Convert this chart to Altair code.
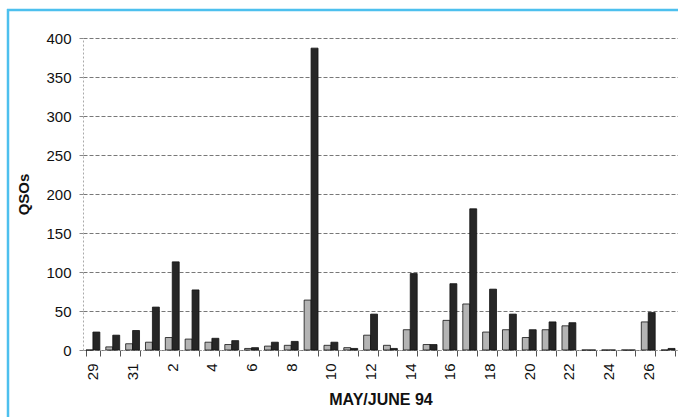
import altair as alt
import pandas as pd

days = ["29", "30", "31", "1", "2", "3", "4", "5", "6", "7", "8", "9", "10", "11", "12",
        "13", "14", "15", "16", "17", "18", "19", "20", "21", "22", "23", "24", "25", "26", "27"]
light = [0, 4, 8, 10, 16, 14, 10, 7, 2, 5, 6, 64, 6, 3, 19, 6, 26, 7, 38, 59,
         23, 26, 16, 26, 31, 0, 0, 0, 36, 0]
dark = [23, 19, 25, 55, 113, 77, 15, 12, 3, 10, 11, 387, 10, 2, 46, 2, 98, 7, 85, 181,
        78, 46, 26, 36, 35, 0, 0, 0, 48, 2]
shown_labels = ["29", "31", "2", "4", "6", "8", "10", "12", "14", "16", "18", "20", "22", "24", "26"]

rows = []
for d, a, b in zip(days, light, dark):
    rows.append({"day": d, "series": "A", "qsos": a})
    rows.append({"day": d, "series": "B", "qsos": b})
df = pd.DataFrame(rows)

label_list = "[" + ",".join("'%s'" % s for s in shown_labels) + "]"

bars = alt.Chart(df).mark_bar(stroke="#111", strokeWidth=0.8).encode(
    x=alt.X("day:N", sort=days,
            scale=alt.Scale(paddingInner=0.3, paddingOuter=0.15),
            axis=alt.Axis(title="MAY/JUNE 94", labelAngle=270, labelAlign="right",
                          labelBaseline="middle", labelFontSize=15, labelColor="#111",
                          labelFont="Liberation Sans", labelPadding=7,
                          labelExpr="indexof(%s, datum.label) >= 0 ? datum.label : ''" % label_list,
                          tickBand="extent", tickSize=6, tickColor="#555",
                          domainColor="#999", domainDash=[2, 2],
                          titleFont="Liberation Sans", titleFontSize=16, titleFontWeight="bold",
                          titleColor="#111", titleBaseline="top", titleY=41)),
    xOffset=alt.XOffset("series:N", scale=alt.Scale(paddingInner=0, paddingOuter=0)),
    y=alt.Y("qsos:Q", scale=alt.Scale(domain=[0, 400]),
            axis=alt.Axis(title="QSOs", values=[0, 50, 100, 150, 200, 250, 300, 350, 400],
                          labelFontSize=15, labelFont="Liberation Sans", labelColor="#111",
                          labelPadding=8, tickSize=4, tickColor="#888",
                          grid=True, gridColor="#555", gridDash=[4, 2], gridWidth=0.8,
                          domainColor="#aaa", domainDash=[2, 2],
                          titleFont="Liberation Sans", titleFontSize=15, titleFontWeight="bold",
                          titleColor="#111", titleX=-52)),
    color=alt.Color("series:N", scale=alt.Scale(domain=["A", "B"], range=["#b4b4b4", "#262626"]),
                    legend=None),
)

frame_left = alt.Chart(alt.Data(values=[{}])).mark_rule(
    stroke="#4dc0ee", strokeWidth=2.5
).encode(x=alt.value(-75), y=alt.value(-29), y2=alt.value(400))

frame_top = alt.Chart(alt.Data(values=[{}])).mark_rule(
    stroke="#4dc0ee", strokeWidth=2.5
).encode(x=alt.value(-76), x2=alt.value(595), y=alt.value(-28))

chart = alt.layer(bars, frame_left, frame_top).properties(
    width=595, height=312,
    autosize=alt.AutoSizeParams(type="none"),
    padding={"left": 83, "top": 38, "right": 0, "bottom": 67},
    background="white",
).configure_view(stroke=None)

chart.save("out.html", embed_options={"renderer": "svg", "actions": False})
